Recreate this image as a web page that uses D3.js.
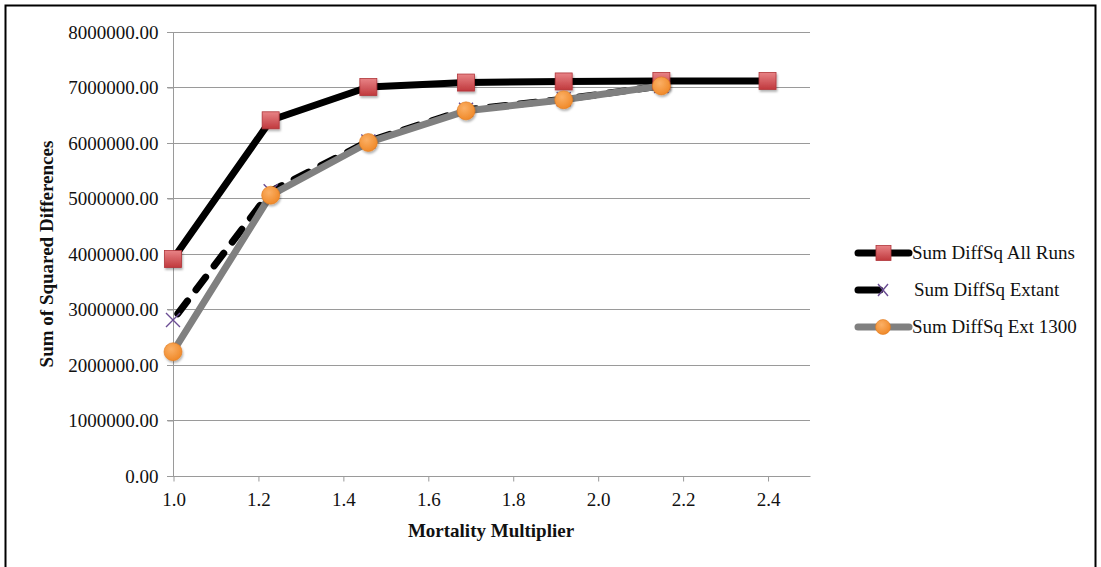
<!DOCTYPE html>
<html><head><meta charset="utf-8">
<script src="https://cdn.jsdelivr.net/npm/d3@7"></script>
<style>body{margin:0;background:#fff}svg{display:block}text{font-family:"Liberation Serif","Times New Roman",serif;fill:#111}</style>
</head><body>
<svg id="c" width="1101" height="567"></svg>
<script>
const xValues = [1.0, 1.23, 1.46, 1.69, 1.92, 2.15, 2.40];
const allRuns = [3900000, 6400000, 7000000, 7080000, 7100000, 7110000, 7110000];
const extant = [2800000, 5120000, 6020000, 6590000, 6780000, 7020000];
const ext1300 = [2230000, 5050000, 6000000, 6570000, 6770000, 7020000];
const seriesNames = ["Sum DiffSq All Runs", "Sum DiffSq Extant", "Sum DiffSq Ext 1300"];
const xTicks = [1.0, 1.2, 1.4, 1.6, 1.8, 2.0, 2.2, 2.4];
const yTicks = [0, 1000000, 2000000, 3000000, 4000000, 5000000, 6000000, 7000000, 8000000];

const svg = d3.select("#c");
svg.append("rect").attr("x",5.5).attr("y",5.5).attr("width",1090).attr("height",600)
  .attr("fill","none").attr("stroke","#000").attr("stroke-width",2);

const x = d3.scaleLinear().domain([1.0, 2.5]).range([173, 810]);
const y = d3.scaleLinear().domain([0, 8000000]).range([475.5, 31.5]);

const defs = svg.append("defs");
const gs = defs.append("linearGradient").attr("id","gsq").attr("x1",0).attr("y1",0).attr("x2",0).attr("y2",1);
gs.append("stop").attr("offset","0%").attr("stop-color","#e88386");
gs.append("stop").attr("offset","100%").attr("stop-color","#c0393d");
const gc = defs.append("radialGradient").attr("id","gci").attr("cx","40%").attr("cy","35%").attr("r","65%");
gc.append("stop").attr("offset","0%").attr("stop-color","#fbb066");
gc.append("stop").attr("offset","100%").attr("stop-color","#f08a2a");
const sh = defs.append("filter").attr("id","sh").attr("x","-30%").attr("y","-30%").attr("width","170%").attr("height","170%");
sh.append("feDropShadow").attr("dx",1).attr("dy",2).attr("stdDeviation",1.2).attr("flood-color","#000").attr("flood-opacity",0.3);

// gridlines
svg.append("g").selectAll("line").data(yTicks).join("line")
  .attr("x1",167).attr("x2",810).attr("y1",d=>Math.round(y(d))+0.5).attr("y2",d=>Math.round(y(d))+0.5)
  .attr("stroke","#9a9a9a").attr("stroke-width",1);

// y axis
const yAxis = d3.axisLeft(y).tickValues(yTicks).tickSize(6).tickFormat(d=>d3.format(".2f")(d));
const gy = svg.append("g").attr("transform","translate(173.5,0.5)").call(yAxis);
gy.select(".domain").attr("stroke","#9a9a9a").attr("d","M0,"+y(8000000)+"V"+y(0));
gy.selectAll(".tick line").attr("stroke","#9a9a9a");
gy.selectAll(".tick text").attr("x",-15).attr("font-size",19).attr("fill","#111")
  .style("font-family","'Liberation Serif',serif");

// x axis
const xAxis = d3.axisBottom(x).tickValues(xTicks).tickSize(5).tickFormat(d3.format(".1f"));
const gx = svg.append("g").attr("transform","translate(0.5,"+(Math.round(y(0))+0.5)+")").call(xAxis);
gx.select(".domain").attr("stroke","#9a9a9a").attr("d","M"+x(1.0)+",0H"+x(2.5));
gx.selectAll(".tick line").attr("stroke","#9a9a9a");
gx.selectAll(".tick text").attr("y",16).attr("font-size",19).attr("fill","#111")
  .style("font-family","'Liberation Serif',serif");

// titles
svg.append("text").attr("x",491).attr("y",537).attr("text-anchor","middle")
  .attr("font-size",19).attr("font-weight","bold").text("Mortality Multiplier");
svg.append("text").attr("transform","translate(53,254) rotate(-90)").attr("text-anchor","middle")
  .attr("font-size",19).attr("font-weight","bold").text("Sum of Squared Differences");

const line = d3.line().x(d=>x(d[0])).y(d=>y(d[1]));
const dAll = xValues.map((v,i)=>[v, allRuns[i]]);
const dExt = extant.map((v,i)=>[xValues[i], v]);
const d13 = ext1300.map((v,i)=>[xValues[i], v]);

// series lines
svg.append("path").datum(dAll).attr("d",line).attr("fill","none").attr("stroke","#000").attr("stroke-width",7).attr("stroke-linejoin","round");
svg.append("path").datum(dExt).attr("d",line).attr("fill","none").attr("stroke","#000").attr("stroke-width",7)
  .attr("stroke-dasharray","16,14").attr("stroke-linecap","round").attr("stroke-dashoffset",-8);
// extant markers
const xm = svg.append("g");
dExt.forEach(d=>{
  const cx=x(d[0]), cy=y(d[1]), r=7;
  xm.append("path").attr("d",`M${cx-r},${cy-r}L${cx+r},${cy+r}M${cx-r},${cy+r}L${cx+r},${cy-r}`)
    .attr("stroke","#6a4c93").attr("stroke-width",1.4).attr("fill","none");
});
svg.append("path").datum(d13).attr("d",line).attr("fill","none").attr("stroke","#808080").attr("stroke-width",7).attr("stroke-linejoin","round");

// All runs squares
svg.append("g").selectAll("rect").data(dAll).join("rect")
  .attr("x",d=>x(d[0])-8.5).attr("y",d=>y(d[1])-8.5).attr("width",17).attr("height",17)
  .attr("fill","url(#gsq)").attr("stroke","#b0353a").attr("stroke-width",0.8).attr("filter","url(#sh)");
// Ext1300 circles
svg.append("g").selectAll("circle").data(d13).join("circle")
  .attr("cx",d=>x(d[0])).attr("cy",d=>y(d[1])).attr("r",9)
  .attr("fill","url(#gci)").attr("stroke","#e07b1f").attr("stroke-width",0.6).attr("filter","url(#sh)");

// legend
const leg = svg.append("g");
const ly = [253, 290, 327];
leg.append("line").attr("x1",858).attr("x2",909).attr("y1",ly[0]).attr("y2",ly[0]).attr("stroke","#000").attr("stroke-width",7).attr("stroke-linecap","round");
leg.append("rect").attr("x",876).attr("y",ly[0]-7.5).attr("width",15).attr("height",15).attr("fill","url(#gsq)").attr("stroke","#b0353a").attr("stroke-width",0.8);
leg.append("line").attr("x1",858).attr("x2",880).attr("y1",ly[1]).attr("y2",ly[1]).attr("stroke","#000").attr("stroke-width",7).attr("stroke-linecap","round");
leg.append("path").attr("d",`M${878},${ly[1]-6}L${888},${ly[1]+6}M${878},${ly[1]+6}L${888},${ly[1]-6}`).attr("stroke","#6a4c93").attr("stroke-width",1.4);
leg.append("line").attr("x1",858).attr("x2",909).attr("y1",ly[2]).attr("y2",ly[2]).attr("stroke","#808080").attr("stroke-width",7).attr("stroke-linecap","round");
leg.append("circle").attr("cx",883).attr("cy",ly[2]).attr("r",7.5).attr("fill","url(#gci)").attr("stroke","#e07b1f").attr("stroke-width",0.6);
seriesNames.forEach((n,i)=>{
  leg.append("text").attr("x", i===1 ? 914 : 912).attr("y",ly[i]+6).attr("font-size",19).text(n);
});
</script>
</body></html>
